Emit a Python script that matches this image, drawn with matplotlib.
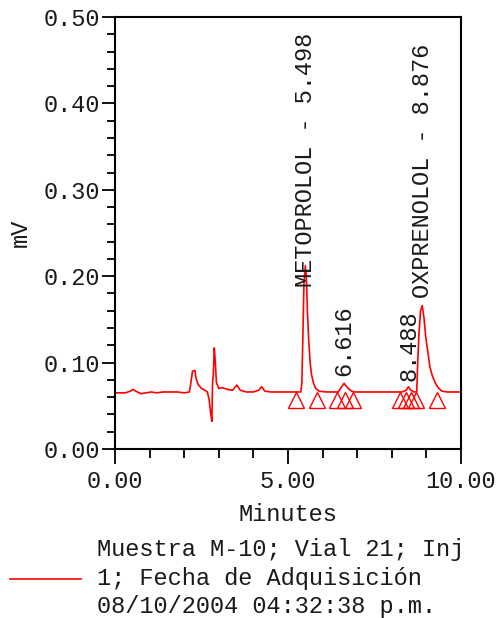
import matplotlib
matplotlib.use("Agg")
import matplotlib.pyplot as plt
from matplotlib.lines import Line2D
from matplotlib.ticker import MultipleLocator, FormatStrFormatter

#===========data===========
# chromatogram trace (minutes, mV)
times = [0.00, 0.30, 0.45, 0.52, 0.60, 0.75, 0.90, 1.05, 1.20, 1.40, 1.60, 1.80,
         2.00, 2.15, 2.19, 2.24, 2.31, 2.34, 2.40, 2.50, 2.60, 2.67, 2.72, 2.77,
         2.80, 2.82, 2.84, 2.87, 2.90, 2.93, 3.00, 3.10, 3.25, 3.40, 3.52, 3.62,
         3.80, 4.00, 4.15, 4.24, 4.33, 4.50, 4.80, 5.10, 5.30, 5.37, 5.40, 5.43,
         5.46, 5.50, 5.53, 5.56, 5.60, 5.64, 5.68, 5.74, 5.80, 5.90, 6.10, 6.30,
         6.45, 6.55, 6.62, 6.70, 6.80, 6.90, 7.20, 7.50, 7.80, 8.10, 8.30, 8.42,
         8.48, 8.55, 8.65, 8.72, 8.74, 8.78, 8.83, 8.88, 8.93, 8.98, 9.05, 9.10,
         9.17, 9.25, 9.34, 9.45, 9.60, 9.80, 10.00]
mv = [0.065, 0.065, 0.067, 0.069, 0.067, 0.064, 0.065, 0.066, 0.065, 0.066, 0.066, 0.066,
      0.065, 0.066, 0.076, 0.090, 0.091, 0.082, 0.075, 0.070, 0.068, 0.066, 0.057, 0.040,
      0.032, 0.078, 0.085, 0.117, 0.100, 0.077, 0.070, 0.071, 0.069, 0.068, 0.074, 0.068,
      0.066, 0.066, 0.068, 0.072, 0.067, 0.066, 0.066, 0.066, 0.066, 0.066, 0.076, 0.130,
      0.190, 0.212, 0.200, 0.160, 0.125, 0.100, 0.086, 0.076, 0.070, 0.067, 0.066, 0.066,
      0.066, 0.072, 0.076, 0.072, 0.068, 0.066, 0.066, 0.066, 0.066, 0.066, 0.066, 0.068,
      0.072, 0.068, 0.066, 0.066, 0.090, 0.130, 0.160, 0.166, 0.152, 0.130, 0.110, 0.095,
      0.085, 0.077, 0.071, 0.067, 0.066, 0.066, 0.066]

# peak start/end markers
marker_times = [5.23, 5.83, 6.41, 6.65, 6.87, 8.25, 8.41, 8.56, 8.69, 9.31]
marker_level = 0.057

# peak labels
label_times = [5.498, 6.616, 8.488, 8.876]
label_texts = ["METOPROLOL - 5.498", "6.616", "8.488", "OXPRENOLOL - 8.876"]
label_base = [0.188, 0.084, 0.079, 0.175]

legend_text = "Muestra M-10; Vial 21; Inj\n1; Fecha de Adquisición\n08/10/2004 04:32:38 p.m."

#===========plot===========
plt.rcParams['font.family'] = ['Liberation Mono', 'DejaVu Sans Mono']
fs = 17
red = "#ff0000"
txt = "#1a1a1a"

fig = plt.figure(figsize=(4.98, 6.18), dpi=100)
ax = fig.add_axes([115/498, 1-449/618, 346/498, 432/618])

ax.plot(times, mv, color=red, lw=1.2)
ax.plot(marker_times, [marker_level]*len(marker_times), ls='none', marker='^',
        ms=12, mfc='none', mec=red, mew=1.0)

for t, s, b in zip(label_times, label_texts, label_base):
  ax.text(t, b, s, rotation=90, ha='center', va='bottom', fontsize=fs, color=txt)

ax.set_xlim(0, 10)
ax.set_ylim(0, 0.5)
ax.xaxis.set_major_locator(MultipleLocator(5))
ax.xaxis.set_minor_locator(MultipleLocator(1))
ax.yaxis.set_major_locator(MultipleLocator(0.1))
ax.yaxis.set_minor_locator(MultipleLocator(0.02))
ax.xaxis.set_major_formatter(FormatStrFormatter('%.2f'))
ax.yaxis.set_major_formatter(FormatStrFormatter('%.2f'))

ax.tick_params(axis='both', which='both', direction='out', width=1.3, labelsize=fs,
               color='black', labelcolor=txt)
ax.tick_params(axis='y', which='major', length=9.5, pad=1.5)
ax.tick_params(axis='y', which='minor', length=5.5)
ax.tick_params(axis='x', which='major', length=11, pad=4)
ax.tick_params(axis='x', which='minor', length=6.5)
for sp in ax.spines.values():
  sp.set_linewidth(1.5)

ax.set_xlabel('Minutes', fontsize=fs, labelpad=7, color=txt)
ax.set_ylabel('mV', fontsize=fs, labelpad=8, color=txt)

leg = fig.legend(handles=[Line2D([], [], color=red, lw=1.2)], labels=[legend_text],
                 loc='center left', bbox_to_anchor=(10/498, 1-578/618), frameon=False,
                 fontsize=fs, handlelength=3.0, handletextpad=0.7, borderpad=0,
                 borderaxespad=0)
for t in leg.get_texts():
  t.set_linespacing(1.32)
  t.set_color(txt)

plt.savefig("out.png", dpi=100)
